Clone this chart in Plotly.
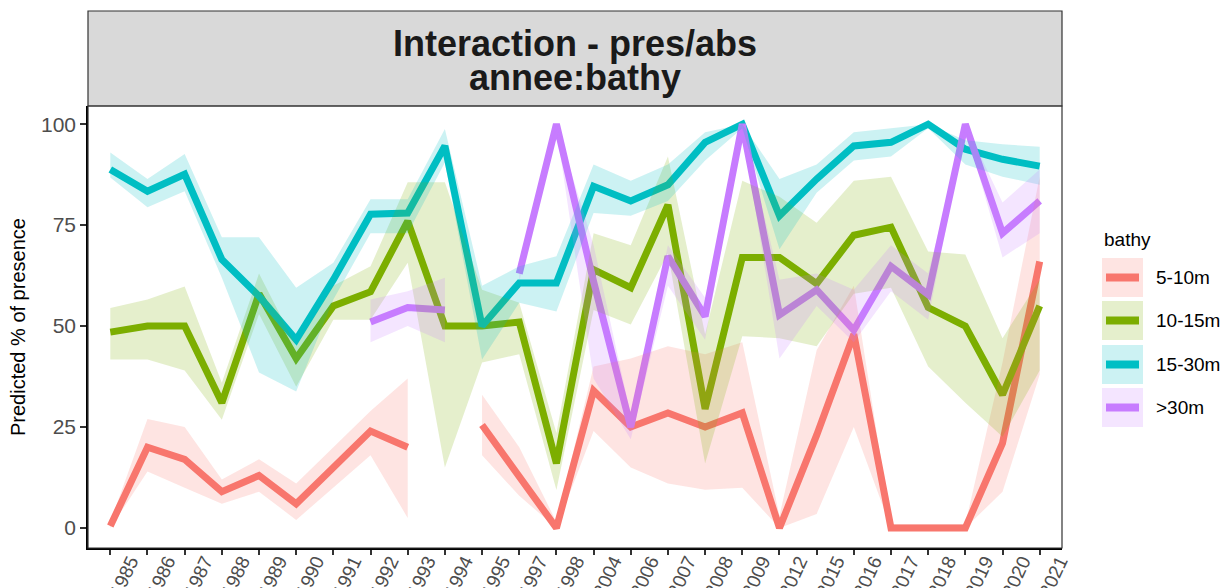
import plotly.graph_objects as go

years = ["1985", "1986", "1987", "1988", "1989", "1990", "1991", "1992", "1993", "1994",
         "1995", "1997", "1998", "2004", "2006", "2007", "2008", "2009", "2012", "2015",
         "2016", "2017", "2018", "2019", "2020", "2021"]

bathy_levels = ["5-10m", "10-15m", "15-30m", ">30m"]

red_fit = [0.5, 20, 17, 9, 13, 6, 15, 24, 20, None, 25.5, 13, 0, 34, 25, 28.5, 25, 28.5, 0, 23, 48, 0, 0, 0, 21, 66]
red_lo = [0, 14, 10, 6, 9, 2, 10, 18, 2.5, None, 18, 8, 0, 24, 15, 11, 9.5, 10, 0, 3.5, 25, 0, 0, 0, 9, 38]
red_hi = [1.5, 27, 25, 12, 17, 11, 20, 29, 37, None, 33, 20, 1.5, 40, 42, 45, 43, 46, 3, 44, 60, 1, 1, 1, 41, 87]

green_fit = [48.5, 50, 50, 31, 58, 42, 55, 58.5, 76, 50, 50, 51, 16, 64, 59.5, 80, 29.5, 67, 67, 60.5, 72.5, 74.5, 54.6, 50, 33, 55]
green_lo = [41.7, 41.7, 39, 26.8, 53, 35, 51.6, 51.6, 65.7, 15, 41, 43, 9.4, 54, 50.4, 68, 16, 47.5, 47, 45, 58, 59.5, 40, 31, 22.6, 39]
green_hi = [54.5, 56.6, 59.8, 36, 63, 45, 60, 64.8, 85.6, 85.6, 59, 55.8, 23.5, 73, 70, 92, 48, 86, 82, 75.6, 86, 87, 68.5, 67.7, 47, 61.5]

cyan_fit = [88.8, 83.4, 87.6, 66.5, 57.4, 46.6, 61.5, 77.7, 78, 94.6, 50, 60.7, 60.7, 84.6, 81, 85, 95.5, 100, 77.3, 86.4, 94.6, 95.5, 100, 93.8, 91.3, 89.6]
cyan_lo = [86.8, 79.4, 83.4, 62, 38.5, 33.8, 56.6, 73, 73, 90.5, 41.7, 55.8, 53.6, 78, 77.3, 81, 91, 99, 69, 83, 91, 92, 99, 90, 87, 85]
cyan_hi = [93, 86.4, 92.6, 72, 72, 59.5, 65.7, 81.4, 81.4, 98.8, 60, 64.8, 67.3, 90, 86, 90, 98, 100, 86.4, 90, 98, 99, 100, 96, 95, 94.4]

purple_fit = [None, None, None, None, None, None, None, 51, 54.6, 54, None, 63, 100, 61, 25, 67.3, 52.4, 100, 52.8, 59, 49, 64.8, 57.8, 100, 73, 81]
purple_lo = [None, None, None, None, None, None, None, 46, 50, 46, None, 61, 99, 37, 22, 60, 46.6, 99, 42, 55, 46, 58.6, 51.6, 99, 67, 73]
purple_hi = [None, None, None, None, None, None, None, 56.6, 58.6, 62, None, 65, 100, 70, 28, 70, 57, 100, 61.5, 63, 59, 70, 63, 100, 80.6, 88.8]

colors = ["#F8766D", "#7CAE00", "#00BFC4", "#C77CFF"]
fills = ["rgba(248,118,109,0.2)", "rgba(124,174,0,0.2)", "rgba(0,191,196,0.2)", "rgba(199,124,255,0.2)"]

series = [
    (red_fit, red_lo, red_hi),
    (green_fit, green_lo, green_hi),
    (cyan_fit, cyan_lo, cyan_hi),
    (purple_fit, purple_lo, purple_hi),
]

FONT = "Liberation Sans, Arial, sans-serif"


def segments(vals):
    runs, cur = [], []
    for i, v in enumerate(vals):
        if v is None:
            if cur:
                runs.append(cur)
            cur = []
        else:
            cur.append(i)
    if cur:
        runs.append(cur)
    return runs


fig = go.Figure()

# lines first (ribbons drawn on top, as in the reference)
for (fit, lo, hi), col, name in zip(series, colors, bathy_levels):
    fig.add_trace(go.Scatter(x=years, y=fit, mode="lines", name=name,
                             line=dict(color=col, width=7), connectgaps=False,
                             showlegend=False, hoverinfo="skip"))

for (fit, lo, hi), fc, name in zip(series, fills, bathy_levels):
    xs, ys = [], []
    for run in segments(lo):
        px = [years[i] for i in run]
        xs += px + px[::-1] + [None]
        ys += [hi[i] for i in run] + [lo[i] for i in run][::-1] + [None]
    fig.add_trace(go.Scatter(x=xs, y=ys, mode="lines", fill="toself", fillcolor=fc,
                             line=dict(width=0, color="rgba(0,0,0,0)"),
                             showlegend=False, hoverinfo="skip", name=name))

W, H = 1230, 588
OFF = 8  # page body margin offset
L, T = 88 - OFF, 106 - OFF
pw, ph = 974, 442
R = W - L - pw
B = H - T - ph


def px_x(x):
    return (x - OFF - L) / pw


def px_y(y):
    return (T + ph - (y - OFF)) / ph


shapes = []
annotations = []

# panel border
shapes.append(dict(type="rect", xref="paper", yref="paper", x0=0, x1=1, y0=0, y1=1,
                   line=dict(color="#333333", width=1.2), fillcolor="rgba(0,0,0,0)", layer="above"))
# strip
shapes.append(dict(type="rect", xref="paper", yref="paper", x0=0, x1=1, y0=1, y1=px_y(11),
                   line=dict(color="#333333", width=1.2), fillcolor="#D9D9D9", layer="below"))
annotations.append(dict(text="<b>Interaction - pres/abs</b>", xref="paper", yref="paper",
                        x=0.5, y=px_y(43), xanchor="center", yanchor="middle", showarrow=False,
                        font=dict(family=FONT, size=36, color="#1A1A1A")))
annotations.append(dict(text="<b>annee:bathy</b>", xref="paper", yref="paper",
                        x=0.5, y=px_y(77), xanchor="center", yanchor="middle", showarrow=False,
                        font=dict(family=FONT, size=36, color="#1A1A1A")))

# y title
annotations.append(dict(text="Predicted % of presence", xref="paper", yref="paper",
                        x=px_x(18), y=px_y(327), xanchor="center", yanchor="middle",
                        textangle=-90, showarrow=False,
                        font=dict(family=FONT, size=20, color="#000000")))

# legend (manual)
annotations.append(dict(text="bathy", xref="paper", yref="paper", x=px_x(1102), y=px_y(239),
                        xanchor="left", yanchor="middle", showarrow=False,
                        font=dict(family=FONT, size=19, color="#000000")))
key_tops = [258, 301, 345, 388]
for name, col, fc, top in zip(bathy_levels, colors, fills, key_tops):
    shapes.append(dict(type="rect", xref="paper", yref="paper",
                       x0=px_x(1102), x1=px_x(1143), y0=px_y(top + 39), y1=px_y(top),
                       line=dict(width=0), fillcolor=fc))
    cy = top + 19.5
    shapes.append(dict(type="line", xref="paper", yref="paper",
                       x0=px_x(1106), x1=px_x(1139), y0=px_y(cy), y1=px_y(cy),
                       line=dict(color=col, width=8)))
    annotations.append(dict(text=name, xref="paper", yref="paper", x=px_x(1154), y=px_y(cy),
                            xanchor="left", yanchor="middle", showarrow=False,
                            font=dict(family=FONT, size=19, color="#000000")))

fig.update_layout(
    width=W, height=H,
    margin=dict(l=L, r=R, t=T, b=B, pad=0, autoexpand=False),
    paper_bgcolor="white", plot_bgcolor="white",
    showlegend=False,
    shapes=shapes, annotations=annotations,
    font=dict(family=FONT),
)

fig.update_xaxes(type="category", categoryorder="array", categoryarray=years,
                 range=[-0.6, 25.6], showgrid=False, zeroline=False, automargin=False,
                 showline=True, linecolor="#000000", linewidth=1.5,
                 ticks="outside", ticklen=5, tickcolor="#333333", tickwidth=1.5,
                 tickangle=-65, ticklabelshift=20, ticklabelstandoff=-12,
                 tickfont=dict(family=FONT, size=19, color="#4D4D4D"))
fig.update_yaxes(range=[-4.95, 104.5], showgrid=False, zeroline=False, automargin=False,
                 tickvals=[0, 25, 50, 75, 100], ticktext=["0", "25", "50", "75", "100"],
                 showline=True, linecolor="#000000", linewidth=1.5,
                 ticks="outside", ticklen=6, tickcolor="#333333", tickwidth=1.5,
                 tickfont=dict(family=FONT, size=21, color="#4D4D4D"))

fig.write_html("out.html")
